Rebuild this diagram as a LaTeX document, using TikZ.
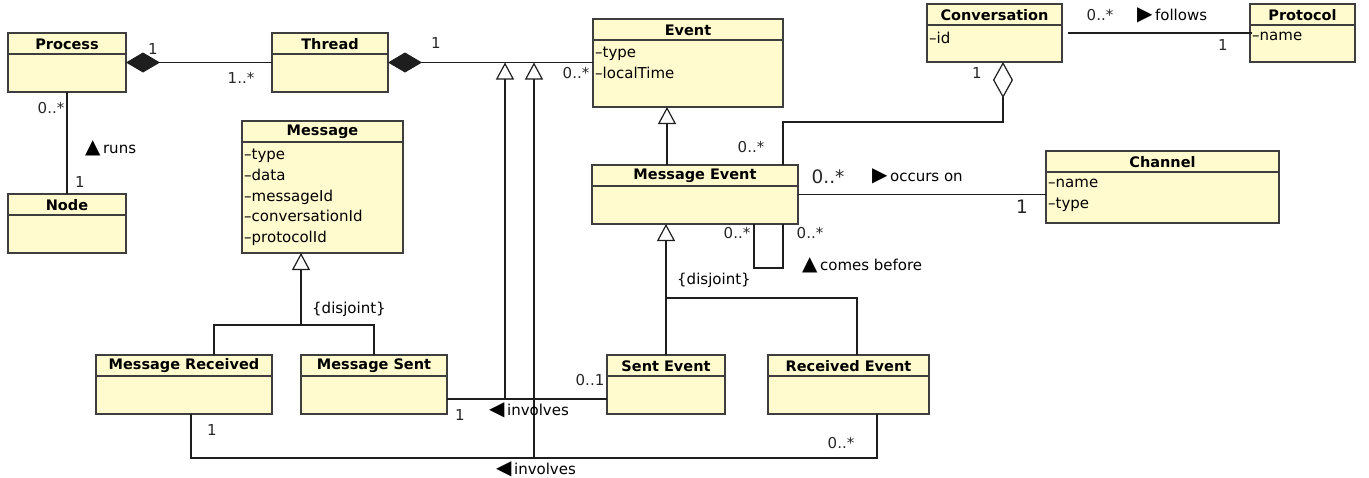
\documentclass[tikz,border=0pt]{standalone}
\usepackage{fontspec}
\setmainfont{DejaVu Sans}
\usetikzlibrary{arrows.meta}
\definecolor{clsfill}{RGB}{255,251,206}
\definecolor{clsdraw}{RGB}{62,62,62}
\definecolor{lnk}{RGB}{30,30,30}
\newcommand\tri[1]{{\fontsize{20}{20}\selectfont #1}}
\newcommand\umlclass[7]{%
  \node[cls, minimum width=#4-#2, minimum height=#5-#3] (#1) at (#2,#3) {};
  \draw[hdr] (#1.north west) ++(0,21) -- ++(#4-#2,0);
  \path (#1.north) ++(0,11) node[ttl] {#6};
  \path (#1.north west) ++(2,28) node[att] {#7};
}
\tikzset{
  cls/.style={draw=clsdraw, fill=clsfill, line width=1.3pt, rectangle, inner sep=0pt, outer sep=0pt, anchor=north west},
  hdr/.style={draw=clsdraw, line width=1.3pt},
  ttl/.style={font=\bfseries\fontsize{14.5}{16}\selectfont, inner sep=0pt, anchor=center},
  att/.style={font=\fontsize{15}{20.75}\selectfont, inner sep=0pt, anchor=north west, align=left},
  conn/.style={draw=lnk, line width=1.2pt},
  mult/.style={font=\fontsize{15}{17}\selectfont, inner sep=0pt, text=black!85},
  bigmult/.style={font=\fontsize{18.5}{20}\selectfont, inner sep=0pt, text=black!85},
  lbl/.style={font=\fontsize{15}{17}\selectfont, inner sep=0pt, anchor=west},
  gen/.style={conn, -{Triangle[open, length=17pt, width=18pt, fill=white]}},
  comp/.style={conn, {Diamond[length=34pt, width=20pt, fill=lnk]}-},
  agg/.style={conn, {Diamond[open, length=36pt, width=20pt, fill=white]}-},
}
\begin{document}
\begin{tikzpicture}[x=1pt, y=-1pt]
\useasboundingbox (0,0) rectangle (1369,477);

% classes
\umlclass{process}{8}{33}{126}{92}{Process}{}
\umlclass{thread}{272}{33}{388}{92}{Thread}{}
\umlclass{node}{8}{194}{126}{253}{Node}{}
\umlclass{event}{593}{19}{783}{107}{Event}{–type\\–localTime}
\umlclass{message}{242}{121}{403}{253}{Message}{–type\\–data\\–messageId\\–conversationId\\–protocolId}
\umlclass{conv}{927}{4}{1062}{62}{Conversation}{–id}
\umlclass{proto}{1250}{4}{1355}{62}{Protocol}{–name}
\umlclass{mevent}{592}{165}{798}{224}{Message Event}{}
\umlclass{channel}{1046}{151}{1279}{223}{Channel}{–name\\–type}
\umlclass{msgrec}{96}{355}{272}{414}{Message Received}{}
\umlclass{msgsent}{301}{355}{447}{414}{Message Sent}{}
\umlclass{sentev}{607}{355}{725}{414}{Sent Event}{}
\umlclass{recev}{768}{355}{929}{414}{Received Event}{}

% helper coordinates
\coordinate (g1) at (505,399);
\coordinate (g2) at (534,458);
\coordinate (aggturn) at (783,122);
\coordinate (megx) at (667,0);
\coordinate (loopA) at (754,268);
\coordinate (loopB) at (783,268);
\coordinate (sj) at (666,298);
\coordinate (rj) at (857,298);
\coordinate (mj) at (301,325);
\coordinate (mjl) at (214,325);
\coordinate (mjr) at (374,325);
\coordinate (b1) at (191,458);
\coordinate (b2) at (877,458);

% connectors
\draw[comp] (process.east) -- (thread.west);
\draw[comp] (thread.east) -- (thread.east -| event.west);
\draw[conn] (process.south) -- (node.north);
\draw[gen] (g1) -- (g1 |- thread.east);
\draw[gen] (g2) -- (g2 |- thread.east);
\draw[conn] ([xshift=6pt]conv.east) -- ([xshift=2pt]proto.west);
\draw[agg] ([xshift=8.5pt]conv.south) |- (aggturn) -- (aggturn |- mevent.north);
\draw[gen] (megx |- mevent.north) -- (megx |- event.south);
\draw[conn] (mevent.east) -- (mevent.east -| channel.west);
\draw[conn] (loopA |- mevent.south) -- (loopA) -- (loopB) -- (loopB |- mevent.south);
\draw[gen] (sentev.north) -- (sentev.north |- mevent.south);
\draw[conn] (sj) -- (rj) -- (rj |- recev.north);
\draw[gen] (mj) -- (mj |- message.south);
\draw[conn] (mjl |- msgrec.north) -- (mjl) -- (mjr) -- (mjr |- msgsent.north);
\draw[conn] (msgsent.east |- g1) -- (sentev.west |- g1);
\draw[conn] (b1 |- msgrec.south) -- (b1) -- (b2) -- (b2 |- recev.south);

% labels
\node[mult] (m1) at (153,49) {1};
\node[mult] (m2) at (241,78) {1..*};
\node[mult] (m3) at (436,43) {1};
\node[mult] (m4) at (576,73) {0..*};
\node[mult] (m5) at (51,108) {0..*};
\node[mult] (m6) at (80,182) {1};
\node[lbl] (l1) at (85,148) {\tri{▲}\,runs};
\node[mult] (m7) at (1100,15) {0..*};
\node[lbl] (l2) at (1137,15) {\tri{▶}\,follows};
\node[mult] (m8) at (1223,45) {1};
\node[mult] (m9) at (977,73) {1};
\node[mult] (m10) at (751,147) {0..*};
\node[bigmult] (m11) at (828,177) {0..*};
\node[lbl] (l3) at (872,176) {\tri{▶}\,occurs on};
\node[bigmult] (m12) at (1022,207) {1};
\node[mult] (m13) at (737,233) {0..*};
\node[mult] (m14) at (810,233) {0..*};
\node[lbl] (l4) at (802,265) {\tri{▲}\,comes before};
\node[lbl] (d1) at (677,280) {\{disjoint\}};
\node[lbl] (d2) at (312,309) {\{disjoint\}};
\node[mult] (m15) at (460,415) {1};
\node[mult] (m16) at (590,380) {0..1};
\node[lbl] (l5) at (489,410) {\tri{◀}\,involves};
\node[mult] (m17) at (212,430) {1};
\node[mult] (m18) at (841,443) {0..*};
\node[lbl] (l6) at (496,469) {\tri{◀}\,involves};
\end{tikzpicture}
\end{document}
